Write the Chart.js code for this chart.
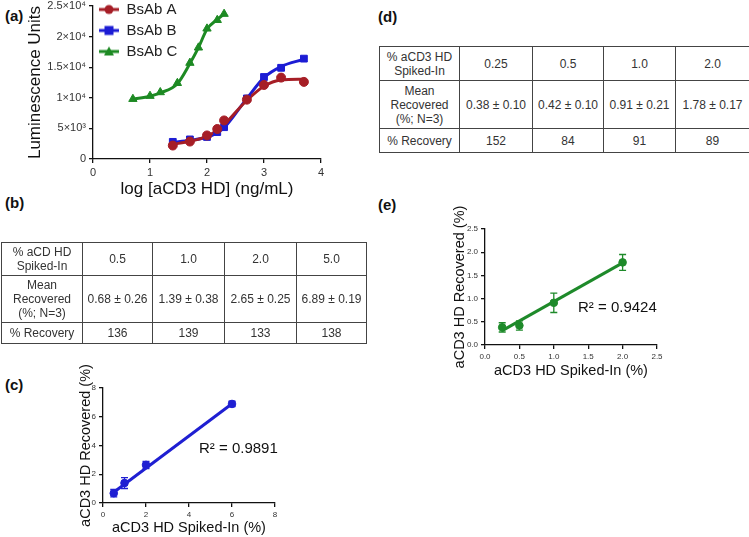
<!DOCTYPE html>
<html><head><meta charset="utf-8">
<script src="https://cdn.jsdelivr.net/npm/chart.js@4.4.1/dist/chart.umd.min.js"></script>
<style>
html,body{margin:0;padding:0;background:#fff;}
#root{position:relative;width:749px;height:537px;overflow:hidden;font-family:"Liberation Sans",Arial,sans-serif;}
.lbl{position:absolute;font-weight:bold;font-size:15px;color:#111;line-height:18px;font-family:"Liberation Sans",Arial,sans-serif;}
.box{position:absolute;}
table{position:absolute;border-collapse:collapse;font-size:12px;color:#333;table-layout:fixed;font-family:"Liberation Sans",Arial,sans-serif;}
td{border:1px solid #444;text-align:center;vertical-align:middle;padding:0;line-height:14px;font-family:"Liberation Sans",Arial,sans-serif;}
.r2{position:absolute;font-size:15px;color:#111;white-space:nowrap;line-height:18px;font-family:"Liberation Sans",Arial,sans-serif;}
</style></head>
<body>
<div id="root">
  <div class="lbl" style="left:5px;top:7px">(a)</div>
  <div class="lbl" style="left:5px;top:194px">(b)</div>
  <div class="lbl" style="left:5px;top:376px">(c)</div>
  <div class="lbl" style="left:378px;top:8px">(d)</div>
  <div class="lbl" style="left:378px;top:196px">(e)</div>

  <div class="box" style="left:0;top:-4px;width:345px;height:204px"><canvas id="chartA" width="345" height="204"></canvas></div>
  <div class="box" style="left:0;top:340px;width:300px;height:197px"><canvas id="chartC" width="300" height="197"></canvas></div>
  <div class="box" style="left:380px;top:195px;width:300px;height:185px"><canvas id="chartE" width="300" height="185"></canvas></div>

  <table id="tableB" style="left:1px;top:242px;width:365px;height:101px"></table>
  <table id="tableD" style="left:379px;top:46px;width:370px;height:106px"></table>

  <div class="r2" id="r2C" style="left:199px;top:439px"></div>
  <div class="r2" id="r2E" style="left:578px;top:298px"></div>
</div>
<script>
// ---------- Panel (a) data ----------
const seriesNames = ['BsAb A', 'BsAb B', 'BsAb C'];
const logConcAB = [1.4, 1.7, 2.0, 2.18, 2.3, 2.7, 3.0, 3.3, 3.7];
const logConcC  = [0.7, 1.0, 1.18, 1.48, 1.7, 1.85, 2.0, 2.18, 2.3];
const lumA = [2200, 2850, 3850, 4900, 6300, 9700, 12100, 13300, 12600];
const lumB = [2800, 3200, 3600, 4400, 5200, 9900, 13400, 14900, 16400];
const lumC = [9800, 10300, 10900, 12400, 15700, 18200, 21300, 22700, 23700];
const fitLumA = [2400, 2900, 3700, 4700, 5600, 9600, 11900, 12900, 13050];
const fitLumB = [2700, 3050, 3550, 4300, 5100, 9900, 13300, 15100, 16300];
const fitLumC = [9800, 10250, 10800, 12300, 15600, 18200, 21200, 22800, 23700];
const yTicksA = [0, 5000, 10000, 15000, 20000, 25000];
const yTickLabelsA = ['0', '5×10³', '1×10⁴', '1.5×10⁴', '2×10⁴', '2.5×10⁴'];
const xTicksA = [0, 1, 2, 3, 4];

// ---------- Panel (b)/(c) data ----------
const spikeB = ['0.5', '1.0', '2.0', '5.0'];
const spikePlotC = [0.5, 1, 2, 6];
const meanB = [0.68, 1.39, 2.65, 6.89];
const sdB = [0.26, 0.38, 0.25, 0.19];
const recoveryB = [136, 139, 133, 138];
const fitCx = [0.5, 6];
const fitCy = [0.75, 6.9];
const r2C = '0.9891';
const ticksC = [0, 2, 4, 6, 8];

// ---------- Panel (d)/(e) data ----------
const spikeD = ['0.25', '0.5', '1.0', '2.0'];
const spikePlotE = [0.25, 0.5, 1.0, 2.0];
const meanD = [0.38, 0.42, 0.91, 1.78];
const sdD = [0.10, 0.10, 0.21, 0.17];
const recoveryD = [152, 84, 91, 89];
const fitEx = [0.25, 2.0];
const fitEy = [0.31, 1.77];
const r2E = '0.9424';
const ticksE = [0, 0.5, 1.0, 1.5, 2.0, 2.5];

// ---------- colours ----------
const colA = '#a61e26', colB = '#1c1cd4', colC = '#1d8a23';
const colPanelC = '#1f1fd2', colPanelE = '#1e8a2a';
const FONT = '"Liberation Sans", Arial, sans-serif';

const pts = (xs, ys) => xs.map((x, i) => ({x: x, y: ys[i]}));

// error bar plugin
const errorBars = {
  id: 'errorBars',
  afterDatasetsDraw(chart) {
    const ctx = chart.ctx;
    const ys = chart.scales.y;
    chart.data.datasets.forEach((ds, i) => {
      if (!ds.errors) return;
      const meta = chart.getDatasetMeta(i);
      ctx.save();
      ctx.strokeStyle = ds.borderColor;
      ctx.lineWidth = 1.3;
      meta.data.forEach((el, j) => {
        const v = ds.data[j].y, e = ds.errors[j];
        const yT = ys.getPixelForValue(v + e), yB = ys.getPixelForValue(v - e);
        const x = el.x;
        ctx.beginPath();
        ctx.moveTo(x, yT); ctx.lineTo(x, yB);
        ctx.moveTo(x - 3.5, yT); ctx.lineTo(x + 3.5, yT);
        ctx.moveTo(x - 3.5, yB); ctx.lineTo(x + 3.5, yB);
        ctx.stroke();
      });
      ctx.restore();
    });
  }
};

function makeAxis(o) {
  return {
    type: 'linear',
    position: o.position,
    min: o.min, max: o.max,
    afterFit: o.afterFit,
    afterBuildTicks: (s) => { s.ticks = o.ticks.map(v => ({value: v})); },
    border: {color: '#111', width: 1.3},
    grid: {display: true, drawOnChartArea: false, drawTicks: true, tickLength: 4, color: '#111', lineWidth: 1.3},
    ticks: {font: {family: FONT, size: o.tickSize}, color: '#333', padding: 3, maxRotation: 0, autoSkip: false,
            callback: o.tickCb},
    title: {display: true, text: o.title, font: {family: FONT, size: o.titleSize}, color: '#111',
            padding: o.titlePad}
  };
}

// legend icons: line + marker
function icon(color, shape) {
  const c = document.createElement('canvas');
  c.width = 20; c.height = 12;
  const g = c.getContext('2d');
  g.strokeStyle = color; g.fillStyle = color; g.lineWidth = 3;
  g.beginPath(); g.moveTo(0, 6); g.lineTo(20, 6); g.stroke();
  g.beginPath();
  if (shape === 'circle') g.arc(10, 6, 4.5, 0, Math.PI * 2);
  else if (shape === 'rect') g.rect(5.5, 1.5, 9, 9);
  else { g.moveTo(10, 1); g.lineTo(15, 10); g.lineTo(5, 10); g.closePath(); }
  g.fill();
  return c;
}
const icons = [icon(colA, 'circle'), icon(colB, 'rect'), icon(colC, 'triangle')];

// ---------- Chart (a) ----------
new Chart(document.getElementById('chartA'), {
  type: 'scatter',
  data: {
    datasets: [
      {label: seriesNames[0], data: pts(logConcAB, lumA), pointStyle: 'circle', pointRadius: 4.5, backgroundColor: colA, borderColor: colA, showLine: false, order: 0},
      {label: seriesNames[1], data: pts(logConcAB, lumB), pointStyle: 'rect', pointRadius: 4.8, backgroundColor: colB, borderColor: colB, showLine: false, order: 0},
      {label: seriesNames[2], data: pts(logConcC, lumC), pointStyle: 'triangle', pointRadius: 4.8, backgroundColor: colC, borderColor: colC, showLine: false, order: 0},
      {label: 'fitA', data: pts(logConcAB, fitLumA), showLine: true, pointRadius: 0, borderColor: colA, borderWidth: 3, cubicInterpolationMode: 'monotone', order: 1},
      {label: 'fitB', data: pts(logConcAB, fitLumB), showLine: true, pointRadius: 0, borderColor: colB, borderWidth: 3, cubicInterpolationMode: 'monotone', order: 1},
      {label: 'fitC', data: pts(logConcC, fitLumC), showLine: true, pointRadius: 0, borderColor: colC, borderWidth: 3, cubicInterpolationMode: 'monotone', order: 1}
    ]
  },
  options: {
    responsive: false, animation: false,
    layout: {padding: {top: 10, right: 24, left: 0, bottom: 0}},
    plugins: {
      tooltip: {enabled: false},
      legend: {
        position: 'chartArea', align: 'start',
        labels: {
          usePointStyle: true, pointStyleWidth: 20, padding: 6,
          font: {family: FONT, size: 15, lineHeight: 1.0}, color: '#222',
          filter: (item) => item.datasetIndex < 3,
          generateLabels: (chart) => Chart.defaults.plugins.legend.labels.generateLabels(chart)
              .map(it => Object.assign(it, {pointStyle: icons[it.datasetIndex] || it.pointStyle}))
        }
      }
    },
    scales: {
      x: makeAxis({position: 'bottom', min: 0, max: 4, ticks: xTicksA, tickSize: 11,
        tickCb: v => String(v), title: 'log [aCD3 HD] (ng/mL)', titleSize: 17,
        titlePad: {top: 0, bottom: 0}, afterFit: s => { s.height = 41; }}),
      y: makeAxis({position: 'left', min: 0, max: 25000, ticks: yTicksA, tickSize: 11,
        tickCb: v => yTickLabelsA[yTicksA.indexOf(v)], title: 'Luminescence Units', titleSize: 17,
        titlePad: {top: 25, bottom: 0}, afterFit: s => { s.width = 93; }})
    }
  }
});

// ---------- Chart (c) ----------
new Chart(document.getElementById('chartC'), {
  type: 'scatter',
  data: {
    datasets: [
      {label: 'Recovered', data: pts(spikePlotC, meanB), errors: sdB, pointRadius: 3.8, backgroundColor: colPanelC, borderColor: colPanelC, showLine: false, order: 0},
      {label: 'fit', data: pts(fitCx, fitCy), showLine: true, pointRadius: 0, borderColor: colPanelC, borderWidth: 3, order: 1}
    ]
  },
  options: {
    responsive: false, animation: false,
    layout: {padding: {top: 48, right: 25, left: 0, bottom: 0}},
    plugins: {legend: {display: false}, tooltip: {enabled: false}},
    scales: {
      x: makeAxis({position: 'bottom', min: 0, max: 8, ticks: ticksC, tickSize: 8,
        tickCb: v => String(v), title: 'aCD3 HD Spiked-In (%)', titleSize: 14.5,
        titlePad: {top: 0, bottom: 0}, afterFit: s => { s.height = 34; }}),
      y: makeAxis({position: 'left', min: 0, max: 8, ticks: ticksC, tickSize: 8,
        tickCb: v => String(v), title: 'aCD3 HD Recovered (%)', titleSize: 14.5,
        titlePad: {top: 77, bottom: 0}, afterFit: s => { s.width = 103; }})
    }
  },
  plugins: [errorBars]
});

// ---------- Chart (e) ----------
new Chart(document.getElementById('chartE'), {
  type: 'scatter',
  data: {
    datasets: [
      {label: 'Recovered', data: pts(spikePlotE, meanD), errors: sdD, pointRadius: 3.8, backgroundColor: colPanelE, borderColor: colPanelE, showLine: false, order: 0},
      {label: 'fit', data: pts(fitEx, fitEy), showLine: true, pointRadius: 0, borderColor: colPanelE, borderWidth: 3, order: 1}
    ]
  },
  options: {
    responsive: false, animation: false,
    layout: {padding: {top: 34, right: 23, left: 0, bottom: 0}},
    plugins: {legend: {display: false}, tooltip: {enabled: false}},
    scales: {
      x: makeAxis({position: 'bottom', min: 0, max: 2.5, ticks: ticksE, tickSize: 8,
        tickCb: v => v.toFixed(1), title: 'aCD3 HD Spiked-In (%)', titleSize: 14.5,
        titlePad: {top: 0, bottom: 0}, afterFit: s => { s.height = 35; }}),
      y: makeAxis({position: 'left', min: 0, max: 2.5, ticks: ticksE, tickSize: 8,
        tickCb: v => v.toFixed(1), title: 'aCD3 HD Recovered (%)', titleSize: 14.5,
        titlePad: {top: 71, bottom: 0}, afterFit: s => { s.width = 105; }})
    }
  },
  plugins: [errorBars]
});

// ---------- tables ----------
function buildTable(id, headLabel, spikes, means, sds, recs, colW, rowH) {
  const t = document.getElementById(id);
  const fmt = (m, s) => m.toFixed(2) + ' ± ' + s.toFixed(2);
  const rows = [
    [headLabel].concat(spikes),
    ['Mean<br>Recovered<br>(%; N=3)'].concat(means.map((m, i) => fmt(m, sds[i]))),
    ['% Recovery'].concat(recs.map(String))
  ];
  let html = '<colgroup>' + colW.map(w => '<col style="width:' + w + 'px">').join('') + '</colgroup>';
  rows.forEach((r, i) => {
    html += '<tr style="height:' + rowH[i] + 'px">' + r.map(c => '<td>' + c + '</td>').join('') + '</tr>';
  });
  t.innerHTML = html;
}
buildTable('tableB', '% aCD HD<br>Spiked-In', spikeB, meanB, sdB, recoveryB, [81, 70, 72, 72, 70], [33, 47, 21]);
buildTable('tableD', '% aCD3 HD<br>Spiked-In', spikeD, meanD, sdD, recoveryD, [80, 73, 71, 72, 74], [34, 48, 24]);

document.getElementById('r2C').textContent = 'R² = ' + r2C;
document.getElementById('r2E').textContent = 'R² = ' + r2E;
</script>
</body></html>
